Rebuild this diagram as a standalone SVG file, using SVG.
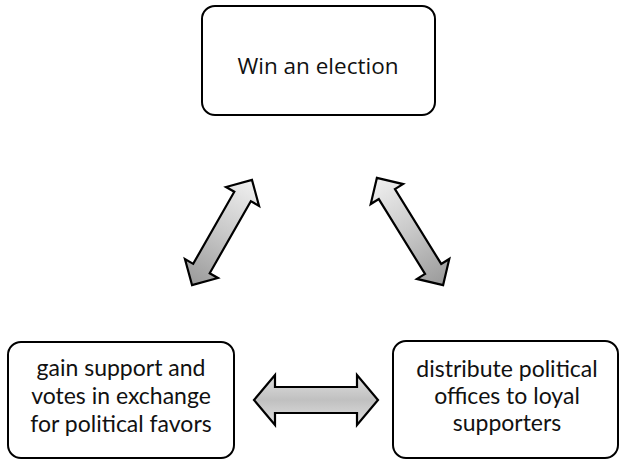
<svg xmlns="http://www.w3.org/2000/svg" width="621" height="460" viewBox="0 0 621 460">
<style>
.box{fill:#fff;stroke:#000;stroke-width:2}
.t{fill:#111;text-anchor:middle}
.top{font-family:"Open Sans","Noto Sans",sans-serif;font-size:22.5px}
.bot{font-family:Lato,"Open Sans",sans-serif;font-size:23px}
.arr{stroke:#000;stroke-width:2.2;stroke-linejoin:miter}
</style>
<defs>
<linearGradient id="gA" x1="0" y1="0" x2="1" y2="0">
<stop offset="0" stop-color="#9a9a9a"/><stop offset="0.5" stop-color="#c8c8c8"/><stop offset="1" stop-color="#f0f0f0"/>
</linearGradient>
<linearGradient id="gB" x1="0" y1="0" x2="1" y2="0">
<stop offset="0" stop-color="#f0f0f0"/><stop offset="0.5" stop-color="#c8c8c8"/><stop offset="1" stop-color="#9a9a9a"/>
</linearGradient>
<linearGradient id="gC" x1="0" y1="0" x2="0" y2="1">
<stop offset="0" stop-color="#e0e0e0"/><stop offset="0.5" stop-color="#c0c0c0"/><stop offset="1" stop-color="#e0e0e0"/>
</linearGradient>
</defs>
<g id="node-win">
<rect class="box" x="202" y="6" width="233" height="109" rx="13"/>
<text class="t top" x="318" y="74">Win an election</text>
</g>
<g id="node-gain">
<rect class="box" x="8" y="342" width="226" height="116" rx="13"/>
<text class="t bot" x="121" y="376">gain support and</text>
<text class="t bot" x="121" y="404">votes in exchange</text>
<text class="t bot" x="121" y="432">for political favors</text>
</g>
<g id="node-distribute">
<rect class="box" x="393" y="341" width="225" height="117" rx="13"/>
<text class="t bot" x="507" y="377">distribute political</text>
<text class="t bot" x="507" y="404">offices to loyal</text>
<text class="t bot" x="507" y="431">supporters</text>
</g>
<g id="connectors">
<polygon class="arr" fill="url(#gA)" transform="translate(222,232.5) rotate(-60.3)" points="-60.5,0 -41.5,-19 -41.5,-9.5 41.5,-9.5 41.5,-19 60.5,0 41.5,19 41.5,9.5 -41.5,9.5 -41.5,19"/>
<polygon class="arr" fill="url(#gB)" transform="translate(410,231.5) rotate(58.3)" points="-63,0 -44,-19 -44,-9.5 44,-9.5 44,-19 63,0 44,19 44,9.5 -44,9.5 -44,19"/>
<polygon class="arr" fill="url(#gC)" points="254,400 275,375 275,387 357,387 357,375 378,400 357,425 357,413 275,413 275,425"/>
</g>
</svg>
